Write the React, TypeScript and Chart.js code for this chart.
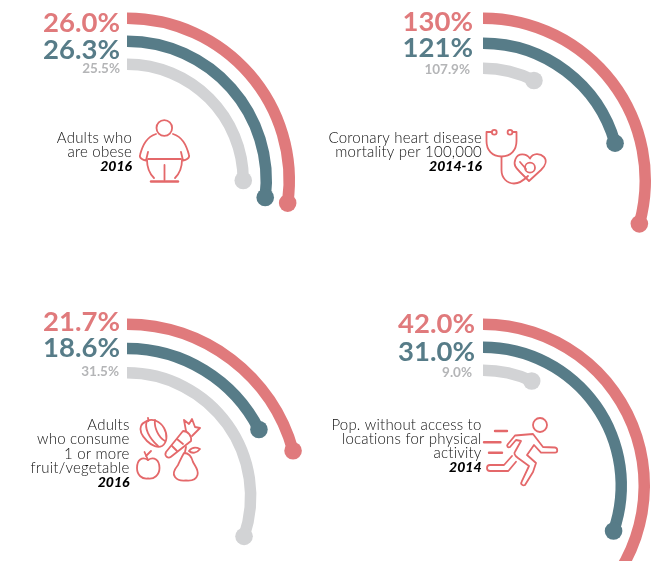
import React, { useEffect, useRef } from "react";
import { Chart, registerables } from "chart.js";

Chart.register(...registerables);

// Arc sweep (degrees clockwise from 12 o'clock); order: local, regional, national
const obesityLabels = ["26.0%", "26.3%", "25.5%"];
const obesitySweep = [98, 97, 90];
const heartLabels = ["130%", "121%", "107.9%"];
const heartSweep = [105.5, 74.2, 27];
const fruitLabels = ["21.7%", "18.6%", "31.5%"];
const fruitSweep = [74.6, 63.1, 108.8];
const activityLabels = ["42.0%", "31.0%", "9.0%"];
const activitySweep = [145, 109.2, 25];

const obesityText = ["Adults who", "are obese"];
const heartText = ["Coronary heart disease", "mortality per 100,000"];
const fruitText = ["Adults", "who consume", "1 or more", "fruit/vegetable"];
const activityText = ["Pop. without access to", "locations for physical", "activity"];

const RED = "#E07A7C";
const TEAL = "#577C88";
const GREY = "#D2D3D5";
const GREY_TEXT = "#B4B5B7";
const INK = "#111111";
const ICON = "#E4686A";
const ringColors = [RED, TEAL, GREY];
const labelColors = [RED, TEAL, GREY_TEXT];

const SANS = '"Lato", sans-serif';

type PanelCfg = {
  cx: number; cy: number; R: number; pitch: number; thick: number;
  labels: string[]; sweep: number[]; text: string[]; period: string;
  labelRight: number[]; labelBase: number[];
  textRight: number; textBase: number[];
};

const panels: PanelCfg[] = [
  {
    cx: 127, cy: 180.5, R: 168, pitch: 23, thick: 11.5,
    labels: obesityLabels, sweep: obesitySweep, text: obesityText, period: "2016",
    labelRight: [120, 120, 120], labelBase: [32, 59, 72.7],
    textRight: 132, textBase: [143, 156.7, 170.7],
  },
  {
    cx: 483, cy: 180.5, R: 168, pitch: 25, thick: 11.5,
    labels: heartLabels, sweep: heartSweep, text: heartText, period: "2014-16",
    labelRight: [473, 473, 470], labelBase: [30.7, 56.7, 74],
    textRight: 482, textBase: [143.3, 157.3, 170.7],
  },
  {
    cx: 127, cy: 496.5, R: 178, pitch: 24.3, thick: 11.5,
    labels: fruitLabels, sweep: fruitSweep, text: fruitText, period: "2016",
    labelRight: [120, 120, 119], labelBase: [330.7, 357.3, 376],
    textRight: 129.5, textBase: [430, 444, 459, 473.3, 486.7],
  },
  {
    cx: 483, cy: 485.5, R: 167, pitch: 23, thick: 11.5,
    labels: activityLabels, sweep: activitySweep, text: activityText, period: "2014",
    labelRight: [475, 475, 472], labelBase: [333.3, 360.7, 377.3],
    textRight: 481.5, textBase: [430, 444, 458, 471.7],
  },
];

function Panel({ cfg }: { cfg: PanelCfg }) {
  const ref = useRef<HTMLCanvasElement>(null);
  const half = Math.ceil(cfg.R) + 12;
  const frac = cfg.cy % 1 !== 0;
  const left = Math.floor(cfg.cx) - half;
  const top = Math.floor(cfg.cy) - half;
  const width = half * 2;
  const height = half * 2 + (frac ? 1 : 0);

  useEffect(() => {
    const overlay = {
      id: "arcOverlay",
      afterDatasetsDraw(chart: any) {
        const ctx = chart.ctx;
        ctx.save();
        [0, 2, 4].forEach((ds, i) => {
          const arc = chart.getDatasetMeta(ds).data[0];
          const r = (arc.innerRadius + arc.outerRadius) / 2;
          ctx.beginPath();
          ctx.arc(arc.x + r * Math.cos(arc.endAngle), arc.y + r * Math.sin(arc.endAngle), 8.8, 0, Math.PI * 2);
          ctx.fillStyle = ringColors[i];
          ctx.fill();
        });
        ctx.textAlign = "right";
        ctx.textBaseline = "alphabetic";
        cfg.labels.forEach((t, i) => {
          ctx.font = `700 ${i === 2 ? 13.5 : 27.5}px ${SANS}`;
          ctx.fillStyle = labelColors[i];
          ctx.fillText(t, cfg.labelRight[i] - left, cfg.labelBase[i] - top);
        });
        ctx.fillStyle = INK;
        ctx.font = `300 15px ${SANS}`;
        ctx.letterSpacing = "0.2px";
        cfg.text.forEach((t, i) => {
          ctx.fillText(t, cfg.textRight - left, cfg.textBase[i] - top);
        });
        ctx.letterSpacing = "0px";
        ctx.fillStyle = "#000";
        ctx.font = `italic 900 14px ${SANS}`;
        ctx.fillText(cfg.period, cfg.textRight - left, cfg.textBase[cfg.text.length] - top);
        ctx.restore();
      },
    };
    const gap = cfg.pitch - cfg.thick;
    const spacer = () => ({
      data: [1], weight: gap, backgroundColor: "rgba(0,0,0,0)", borderWidth: 0,
    });
    const ring = (i: number) => ({
      data: [cfg.sweep[i], 360 - cfg.sweep[i]],
      weight: cfg.thick,
      backgroundColor: [ringColors[i], "rgba(0,0,0,0)"],
      borderWidth: 0,
    });
    const inner = cfg.R - 2 * cfg.pitch - cfg.thick;
    const chart = new Chart(ref.current as HTMLCanvasElement, {
      type: "doughnut",
      data: {
        labels: ["value", "rest"],
        datasets: [ring(0), spacer(), ring(1), spacer(), ring(2)] as any,
      },
      options: {
        animation: false,
        responsive: false,
        radius: cfg.R,
        cutout: `${(inner / cfg.R) * 100}%`,
        events: [],
        plugins: { legend: { display: false }, tooltip: { enabled: false } },
      } as any,
      plugins: [overlay],
    });
    return () => chart.destroy();
  }, []);

  return (
    <canvas
      ref={ref}
      width={width}
      height={height}
      style={{ position: "absolute", left, top, width, height }}
    />
  );
}

function Icons() {
  return (
    <svg
      width={654}
      height={561}
      style={{ position: "absolute", left: 0, top: 0 }}
      fill="none"
      stroke={ICON}
      strokeWidth={1.8}
      strokeLinecap="round"
      strokeLinejoin="round"
    >
      {/* obese adult */}
      <circle cx={164.3} cy={128} r={7.8} />
      <path d="M156 134 C147 137 143 144 140 155 C139 158 143 160 146 160.5 L148 152" />
      <path d="M173 134 C182 137 186 144 189 155 C190 158 186 160 183 160.5 L181 152" />
      <path d="M148 159 H181" />
      <path d="M147 160 C147 168 150 174 154 178" />
      <path d="M182 160 C182 168 179 174 175 178" />
      <path d="M164.5 165 V180" />
      <path d="M151 181.5 H178" strokeWidth={2.4} />
      {/* stethoscope and heart */}
      <circle cx={494.3} cy={132.3} r={2.4} />
      <circle cx={510} cy={132.3} r={2.4} />
      <path d="M491.5 132 H486.5 V141 C486.5 150 492 156.5 501.5 156.5 C511 156.5 516.5 150 516.5 141 V132 H513" />
      <path d="M501.5 157 V170 C501.5 178 507 183.5 514 183.5 C520 183.5 524 180 528 176" />
      <circle cx={530} cy={167.7} r={5} />
      <path d="M530 158.5 C526 153 518 153 515.5 159 C513 165 516 168 520 172 L529 181 L541 170 C546 165 547 160 544 157 C540 153 533 153 530 158.5 Z" />
      <path d="M520 162 L526 169" />
      {/* pepper */}
      <path d="M147 421 C152 418 160 421 164 428 C168 435 167 443 162 446 C158 448 152 446 147 441 C142 436 139 431 141 426 C142 423 145 422 147 421 Z" />
      <path d="M147 421 C144 428 149 438 158 446 M155 420 C154 427 158 437 165 441" />
      <path d="M148 418 L148.5 421" />
      {/* carrot */}
      <path d="M183 431 L166 452 C164 456 168 459 171 456.7 L191 441 C192 436 188 431 183 431 Z" />
      <path d="M177 439 L183 444 M172 446 L177 451" />
      <path d="M186 431 L184 420 L189 424 L192 419 L195 427 L200 428 L192 436" />
      {/* apple */}
      <path d="M148 460 C142 456 137 460 137 468 C137 475 142 479.5 148 478.5 C154 479.5 159.5 475 159.5 468 C159.5 460 154 456 148 460 Z" />
      <path d="M148 460 L144.5 452 M146 456 L151 451" />
      {/* pear */}
      <path d="M184 453 C181 458 180 461 178 465 C174 470 172 474 175 477 C178 481 182 481 186 480.5 C191 481 196 480 197.5 475 C199 470 195 466 193 462 C192 458 190 453 184 453 Z" />
      <path d="M185 452 L186 447" />
      <path d="M189 451 C192 447 196 447 200 449 C197 453 192 454 189 451 Z" />
      {/* runner */}
      <circle cx={540} cy={425} r={7} />
      <path d="M495 431 H507 M484 442.3 H500.5 M489 452.7 H502" strokeWidth={2.4} />
      <path d="M508 444 L515 435.5 L533 434 L543 447 L555 447.5 C558 448 558 452.7 555 452.7 L541 452.7 L534 445 L527 455 L536 463 L533 472 L525 485 C523 486 520 484 521.7 481.7 L529 466 L518 458 C514 455 514 453 515 451.7 L521 441 L516 440 L510 447 C508 448 506 446 508 444 Z" />
      <path d="M516 461.7 L508.3 471 H490 C486 471 486 465 490 465 H504 L512 456" />
    </svg>
  );
}

export default function App() {
  return (
    <div style={{ position: "fixed", left: 0, top: 0, width: 654, height: 561, overflow: "hidden", background: "#fff" }}>
      {panels.map((p, i) => (
        <Panel key={i} cfg={p} />
      ))}
      <Icons />
    </div>
  );
}
